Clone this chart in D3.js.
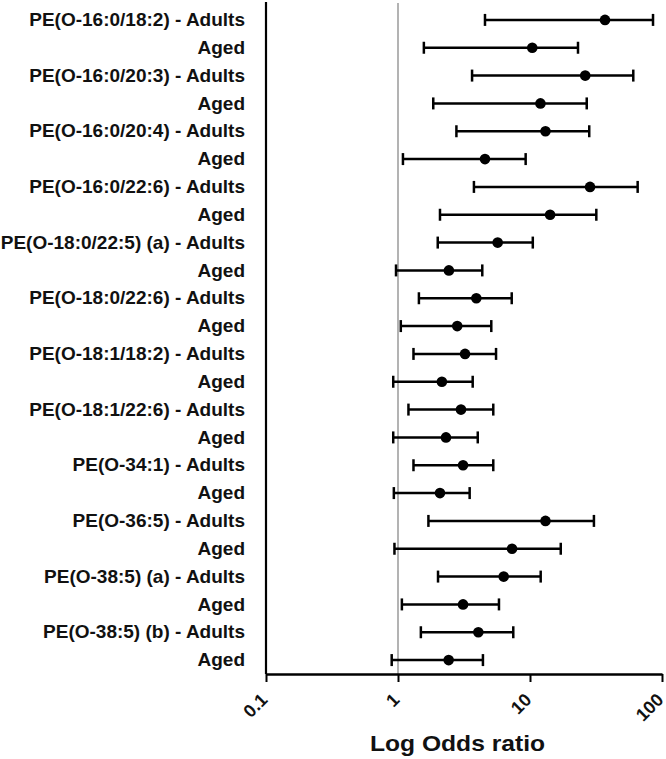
<!DOCTYPE html>
<html><head><meta charset="utf-8">
<script src="https://cdn.jsdelivr.net/npm/d3@7"></script>
<style>body{margin:0;background:#fff}svg{display:block}</style>
</head><body>
<svg id="c" width="666" height="759"></svg>
<script>
const labels = [
 "PE(O-16:0/18:2) - Adults","Aged",
 "PE(O-16:0/20:3) - Adults","Aged",
 "PE(O-16:0/20:4) - Adults","Aged",
 "PE(O-16:0/22:6) - Adults","Aged",
 "PE(O-18:0/22:5) (a) - Adults","Aged",
 "PE(O-18:0/22:6) - Adults","Aged",
 "PE(O-18:1/18:2) - Adults","Aged",
 "PE(O-18:1/22:6) - Adults","Aged",
 "PE(O-34:1) - Adults","Aged",
 "PE(O-36:5) - Adults","Aged",
 "PE(O-38:5) (a) - Adults","Aged",
 "PE(O-38:5) (b) - Adults","Aged"
];
const oddsRatio = [37,10.4,26.2,12.0,13.1,4.56,28.5,14.2,5.69,2.43,3.92,2.81,3.22,2.15,3.0,2.31,3.11,2.08,13.1,7.31,6.32,3.11,4.06,2.42];
const lowerCI   = [4.56,1.57,3.64,1.85,2.77,1.09,3.76,2.08,2.0,0.966,1.44,1.05,1.31,0.92,1.20,0.92,1.31,0.93,1.70,0.94,2.01,1.07,1.49,0.896];
const upperCI   = [85.5,23.1,60.6,26.9,28.1,9.27,65.4,31.8,10.5,4.35,7.27,5.09,5.53,3.68,5.27,4.02,5.27,3.49,30.5,17.1,12.05,5.82,7.47,4.40];
const tickValues = [0.1,1,10,100];
const tickLabels = ["0.1","1","10","100"];
const xTitle = "Log Odds ratio";

(function(){
const data = labels.map((l,i)=>({id:i,label:l,or:oddsRatio[i],lo:lowerCI[i],hi:upperCI[i]}));
const svg = d3.select("#c");
const mLeft=266, mRight=662, mTop=6, mBottom=674;
const x = d3.scaleLog().domain([0.1,100]).range([mLeft,mRight]);
const y = d3.scaleBand().domain(data.map(d=>d.id)).range([mTop,mBottom]);
const font = "'Liberation Sans', Arial, sans-serif";

svg.append("line").attr("x1",x(1)).attr("x2",x(1)).attr("y1",mTop-3).attr("y2",mBottom)
  .attr("stroke","#9a9a9a").attr("stroke-width",1.5);

const yAxis = svg.append("g").attr("transform",`translate(${mLeft},0)`)
  .call(d3.axisLeft(y).tickSize(0).tickPadding(21).tickFormat(i=>labels[i]));
yAxis.select(".domain").attr("stroke","#000").attr("stroke-width",2.2).attr("d",`M0,${mTop-4}V${mBottom}`);
yAxis.selectAll("text").attr("font-family",font).attr("font-weight","bold").attr("font-size",19).attr("fill","#111");

const xAxis = svg.append("g").attr("transform",`translate(0,${mBottom})`)
  .call(d3.axisBottom(x).tickValues(tickValues).tickFormat((d,i)=>tickLabels[i]).tickSize(8).tickSizeOuter(0));
xAxis.select(".domain").attr("stroke","#000").attr("stroke-width",2.6);
xAxis.selectAll(".tick line").attr("stroke","#000").attr("stroke-width",2);
xAxis.selectAll("text").attr("font-family",font).attr("font-weight","bold").attr("font-size",18).attr("fill","#111")
  .attr("text-anchor","end").attr("x",0).attr("y",0).attr("dy","0")
  .attr("transform","translate(2,27) rotate(-45)");

const g = svg.append("g");
const cy = d=>y(d.id)+y.bandwidth()/2;
g.selectAll("line.bar").data(data).join("line").attr("class","bar")
  .attr("x1",d=>x(d.lo)).attr("x2",d=>x(d.hi)).attr("y1",cy).attr("y2",cy)
  .attr("stroke","#000").attr("stroke-width",2.5);
g.selectAll("line.capl").data(data).join("line").attr("class","capl")
  .attr("x1",d=>x(d.lo)).attr("x2",d=>x(d.lo)).attr("y1",d=>cy(d)-6).attr("y2",d=>cy(d)+6)
  .attr("stroke","#000").attr("stroke-width",2.5);
g.selectAll("line.capr").data(data).join("line").attr("class","capr")
  .attr("x1",d=>x(d.hi)).attr("x2",d=>x(d.hi)).attr("y1",d=>cy(d)-6).attr("y2",d=>cy(d)+6)
  .attr("stroke","#000").attr("stroke-width",2.5);
g.selectAll("circle").data(data).join("circle")
  .attr("cx",d=>x(d.or)).attr("cy",cy).attr("r",5.3).attr("fill","#000");

svg.append("text").attr("text-anchor","middle")
  .attr("transform","translate(457.5,751) scale(1.12,1)")
  .attr("font-family",font).attr("font-weight","bold").attr("font-size",22).attr("fill","#111").text(xTitle);
})();
</script>
</body></html>
